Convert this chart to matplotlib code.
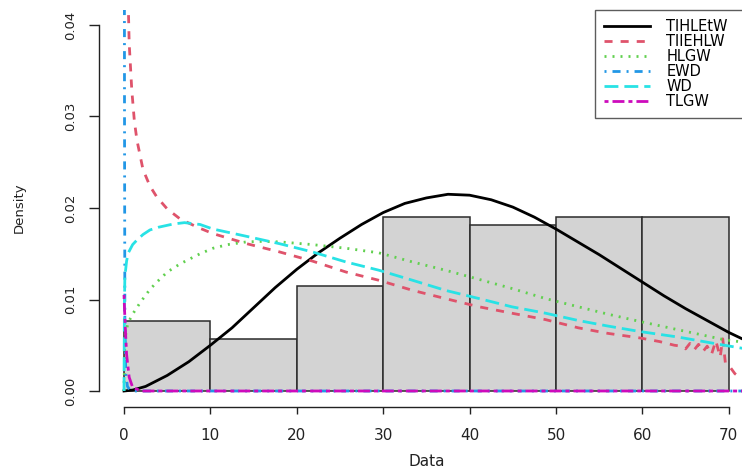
import numpy as np
import matplotlib
matplotlib.use('Agg')
import matplotlib.pyplot as plt

plt.rcParams['font.family'] = ['DejaVu Sans']

# histogram of the data (counts per 10-wide bin)
bin_edges = [0, 10, 20, 30, 40, 50, 60, 70]
bin_counts = [8, 6, 12, 20, 19, 20, 20]

# fitted densities
tihletw_x = [0, 1, 2.5, 5, 7.5, 10, 12.5, 15, 17.5, 20, 22.5, 25, 27.5, 30, 32.5, 35,
             37.5, 40, 42.5, 45, 47.5, 50, 52.5, 55, 57.5, 60, 62.5, 65, 67.5, 70, 72]
tihletw_y = [0.0, 0.0001, 0.0005, 0.0017, 0.0032, 0.0050, 0.0069, 0.0091, 0.0113, 0.0133,
             0.0151, 0.0167, 0.0182, 0.0195, 0.0205, 0.0211, 0.0215, 0.0214, 0.0209, 0.0201,
             0.0190, 0.0177, 0.0163, 0.0149, 0.0134, 0.0119, 0.0104, 0.0090, 0.0077, 0.0064, 0.0055]

tiiehlw_x = [0.4, 0.6, 0.9, 1.2, 1.5, 2.2, 3.0, 3.8, 5.0, 6.5, 8.5, 10.3, 14.2, 18.0, 21.8,
             25.7, 29.5, 33.4, 37.2, 41.1, 44.9, 48.8, 52.6, 56, 59.7, 62, 63.7, 64.5, 65,
             65.5, 66, 66.5, 67, 67.5, 68, 68.5, 69, 69.3, 69.6, 70, 70.7, 71.5]
tiiehlw_y = [0.046, 0.0380, 0.0329, 0.0295, 0.0274, 0.0242, 0.0224, 0.0212, 0.0199, 0.0188,
             0.0179, 0.0172, 0.0161, 0.0152, 0.0142, 0.0130, 0.0121, 0.0110, 0.0101, 0.0092,
             0.0085, 0.0078, 0.0069, 0.0063, 0.0058, 0.0054, 0.0050, 0.0049, 0.0046, 0.0052,
             0.0045, 0.0051, 0.0043, 0.0049, 0.0040, 0.0055, 0.0037, 0.0057, 0.0031, 0.0028,
             0.0019, 0.0013]

hlgw_x = [0, 0.1, 0.3, 0.5, 1.0, 1.9, 3.0, 3.8, 5.0, 6.5, 8.8, 10.3, 12.0, 14.2, 16.0, 18.0,
          21.8, 25.7, 29.5, 33.4, 37.2, 41.1, 44.9, 48.8, 52.6, 56, 59.7, 64.1, 69.5, 72]
hlgw_y = [0.0, 0.0055, 0.0068, 0.0075, 0.0084, 0.0097, 0.0111, 0.0119, 0.0130, 0.0139,
          0.0150, 0.0156, 0.0160, 0.0163, 0.01635, 0.0163, 0.0160, 0.0156, 0.0151, 0.0141,
          0.0132, 0.0122, 0.0112, 0.0101, 0.0092, 0.0084, 0.0076, 0.0067, 0.0056, 0.0053]

ewd_x = [0, 0.03, 0.06, 0.1, 0.2, 0.4, 0.7, 1.0, 72]
ewd_y = [0.06, 0.06, 0.03, 0.008, 0.002, 0.0005, 0.0001, 0.0, 0.0]

wd_x = [0, 0.05, 0.1, 0.3, 0.5, 1.0, 1.5, 2.2, 3.0, 4.0, 5.7, 7.0, 8.8, 10.3, 14.2, 18.0,
        21.8, 25.7, 29.5, 33.4, 37.2, 41.1, 44.9, 48.8, 52.6, 56, 59.7, 64.1, 69.5, 72]
wd_y = [0.0, 0.0095, 0.0125, 0.0142, 0.0151, 0.0160, 0.0165, 0.0171, 0.0176, 0.0179,
        0.01825, 0.0184, 0.0182, 0.0177, 0.0169, 0.0161, 0.0152, 0.0141, 0.0132, 0.0121,
        0.0110, 0.0101, 0.0092, 0.0085, 0.0077, 0.0071, 0.0065, 0.0059, 0.0050, 0.0046]

tlgw_x = [0, 0.1, 0.3, 0.6, 1.0, 2.0, 72]
tlgw_y = [0.0105, 0.0080, 0.0040, 0.0015, 0.0004, 0.0, 0.0]

names = ['TIHLEtW', 'TIIEHLW', 'HLGW', 'EWD', 'WD', 'TLGW']

fig = plt.figure(figsize=(7.42, 4.70), dpi=100)
ax = fig.add_axes([99 / 742, (470 - 407) / 470, (742 - 99) / 742, (407 - 10) / 470])

counts = np.array(bin_counts)
dens = counts / (counts.sum() * 10.0)
ax.bar(bin_edges[:-1], dens, width=10, align='edge', color='#D3D3D3',
       edgecolor='#2b2b2b', linewidth=1.1, zorder=1)

lw = 2.0
ax.plot(tihletw_x, tihletw_y, color='black', lw=lw, ls='-', label=names[0], zorder=3)
ax.plot(tiiehlw_x, tiiehlw_y, color='#DF536B', lw=lw, ls=(0, (2.9, 2.9)), label=names[1], zorder=3)
ax.plot(hlgw_x, hlgw_y, color='#61D04F', lw=lw, ls=(0, (0.72, 2.16)), label=names[2], zorder=3)
ax.plot(ewd_x, ewd_y, color='#2297E6', lw=lw, ls=(0, (0.72, 2.16, 2.9, 2.16)), label=names[3], zorder=3)
ax.plot(wd_x, wd_y, color='#28E2E5', lw=lw, ls=(0, (5.0, 2.16)), label=names[4], zorder=3)
ax.plot(tlgw_x, tlgw_y, color='#CD0BBC', lw=lw, ls=(0, (1.44, 1.44, 4.3, 1.44)), label=names[5], zorder=3)

ax.set_xlim(-25 / 8.64, (742 - 124) / 8.64)
ax.set_ylim(-(407 - 391) / 9150, (391 - 10) / 9150)

for s in ['top', 'right']:
    ax.spines[s].set_visible(False)
ax.spines['left'].set_bounds(0, 0.04)
ax.spines['bottom'].set_bounds(0, 70)
for s in ['left', 'bottom']:
    ax.spines[s].set_color('#222222')
    ax.spines[s].set_linewidth(1.0)

ax.set_xticks(range(0, 71, 10))
ax.set_xticklabels([str(v) for v in range(0, 71, 10)], fontsize=11, color='#222222')
yt = [0.0, 0.01, 0.02, 0.03, 0.04]
ax.set_yticks(yt)
ax.set_yticklabels(['%.2f' % v for v in yt], fontsize=9.5, rotation=90, va='center',
                   color='#222222')
ax.tick_params(axis='x', direction='out', length=5, width=1.0, pad=10, colors='#222222')
ax.tick_params(axis='y', direction='out', length=7, width=1.0, pad=9, colors='#222222')

fig.text(19 / 742, 1 - 208 / 470, 'Density', rotation=90, fontsize=9.5,
         ha='center', va='center', color='#222222')
fig.text(427 / 742, 1 - 461 / 470, 'Data', fontsize=11, ha='center', va='center',
         color='#222222')

# legend box runs past the right edge, as in the cropped original
leg = ax.legend(loc='upper left', bbox_to_anchor=(595 / 742, 0.5, 170 / 742, 1 - 10 / 470 - 0.5),
                bbox_transform=fig.transFigure, mode='expand', fontsize=10.5, frameon=True,
                fancybox=False, handlelength=3.2, handletextpad=1.1,
                borderpad=0.6, labelspacing=0.0, borderaxespad=0)
leg.get_frame().set_edgecolor('#333333')
leg.get_frame().set_linewidth(1.0)

fig.savefig('out.png', dpi=100)
